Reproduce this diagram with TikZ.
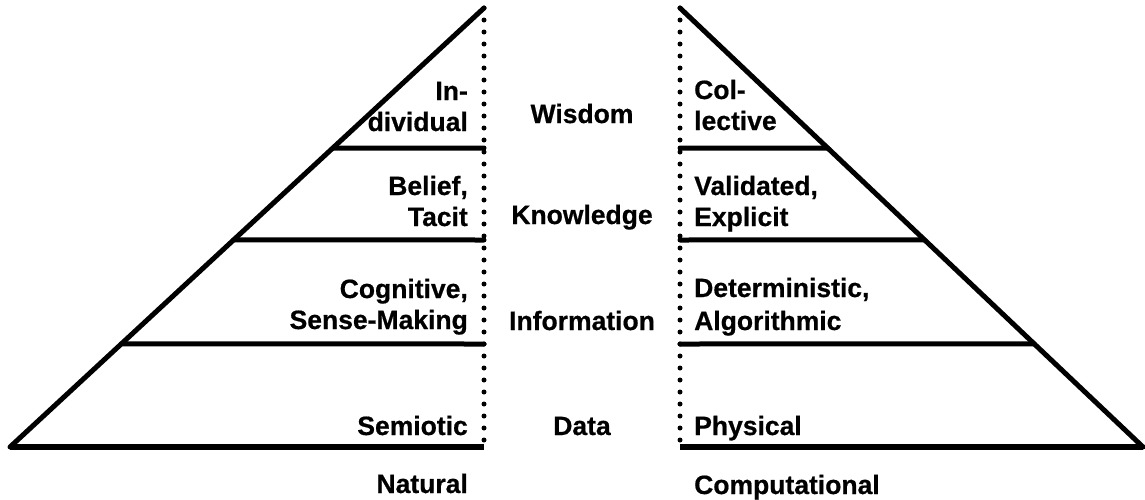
\documentclass[tikz,border=0pt]{standalone}
\usepackage{fontspec}
\setmainfont{Liberation Sans}[BoldFeatures={FakeBold=0.6}]
\usetikzlibrary{calc}
\begin{document}
\begin{tikzpicture}[x=1pt,y=-1pt,
  edge/.style={line width=5pt, line cap=round},
  baseline/.style={line width=6pt},
  dotline/.style={line width=5pt, line cap=round, dash pattern=on 0pt off 12pt},
  lbl/.style={font=\fontsize{26.5}{31}\bfseries\selectfont, inner sep=0pt},
  lt/.style={lbl, anchor=base east},
  ct/.style={lbl, anchor=base},
  rt/.style={lbl, anchor=base west}]
\useasboundingbox (0,0) rectangle (1145,499);
% left triangle
\coordinate (LA) at (484,8);
\coordinate (LB) at (10,447);
\coordinate (LR) at (484,447);
\coordinate (L1) at ($(LA)!0.319!(LB)$);
\coordinate (L2) at ($(LA)!0.528!(LB)$);
\coordinate (L3) at ($(LA)!0.765!(LB)$);
\coordinate (L1r) at (484,148);
\coordinate (L2r) at (484,240);
\coordinate (L3r) at (484,344);
% right triangle
\coordinate (RA) at (680,8);
\coordinate (RB) at (1143,447);
\coordinate (RL) at (680,447);
\coordinate (R1) at ($(RA)!0.319!(RB)$);
\coordinate (R2) at ($(RA)!0.528!(RB)$);
\coordinate (R3) at ($(RA)!0.765!(RB)$);
\coordinate (R1l) at (680,148);
\coordinate (R2l) at (680,240);
\coordinate (R3l) at (680,344);

\draw[edge] (LA) -- (LB);
\draw[baseline] (LB) -- (LR);
\draw[edge] (L1) -- (L1r);
\draw[edge] (L2) -- (L2r);
\draw[edge] (L3) -- (L3r);
\draw[dotline] (LA) -- (LR);

\draw[edge] (RA) -- (RB);
\draw[baseline] (RL) -- (RB);
\draw[edge] (R1l) -- (R1);
\draw[edge] (R2l) -- (R2);
\draw[edge] (R3l) -- (R3);
\draw[dotline] (RA) -- (RL);

% left labels
\node[lt] (in1) at (468,100) {In-};
\node[lt] (in2) at (468,131) {dividual};
\node[lt] (be1) at (468,195) {Belief,};
\node[lt] (be2) at (468,226) {Tacit};
\node[lt] (co1) at (468,298) {Cognitive,};
\node[lt] (co2) at (468,329) {Sense-Making};
\node[lt] (se) at (468,435) {Semiotic};
\node[lt] (nat) at (468,493) {Natural};
% centre labels
\node[ct] (wis) at (582,123) {Wisdom};
\node[ct] (kno) at (582,224) {Knowledge};
\node[ct] (inf) at (582,330) {Information};
\node[ct] (dat) at (582,435) {Data};
% right labels
\node[rt] (col1) at (694,99) {Col-};
\node[rt] (col2) at (694,130) {lective};
\node[rt] (va1) at (694,195) {Validated,};
\node[rt] (va2) at (694,226) {Explicit};
\node[rt] (de1) at (694,297) {Deterministic,};
\node[rt] (de2) at (694,330) {Algorithmic};
\node[rt] (ph) at (694,435) {Physical};
\node[rt] (comp) at (694,494) {Computational};
\end{tikzpicture}
\end{document}
